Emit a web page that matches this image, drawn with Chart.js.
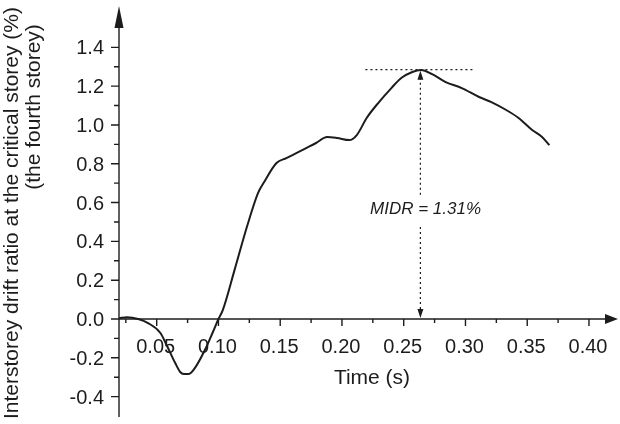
<!DOCTYPE html>
<html>
<head>
<meta charset="utf-8">
<script src="https://cdn.jsdelivr.net/npm/chart.js@4"></script>
<style>
  html, body { margin: 0; padding: 0; background: #fff; }
  #wrap { width: 620px; height: 424px; }
</style>
</head>
<body>
<div id="wrap"><canvas id="chart"></canvas></div>
<script>
// drift response at the critical (fourth) storey
const timeS = [0.0195, 0.026, 0.035, 0.043, 0.053, 0.058, 0.065, 0.069, 0.072, 0.076, 0.081, 0.089, 0.0955, 0.100, 0.1035,
  0.113, 0.123, 0.132, 0.137, 0.147, 0.155, 0.163, 0.171, 0.179, 0.188, 0.196, 0.206, 0.212, 0.220, 0.230, 0.240,
  0.248, 0.257, 0.264, 0.273, 0.284, 0.297, 0.311, 0.321, 0.333, 0.343, 0.354, 0.362, 0.368];
const drift = [0.004, 0.009, 0.0, -0.021, -0.072, -0.134, -0.227, -0.273, -0.283, -0.283, -0.252, -0.160, -0.067, 0.0, 0.046,
  0.252, 0.474, 0.649, 0.706, 0.804, 0.829, 0.855, 0.881, 0.907, 0.938, 0.933, 0.922, 0.948, 1.036, 1.118, 1.190,
  1.242, 1.273, 1.283, 1.262, 1.221, 1.190, 1.144, 1.118, 1.077, 1.036, 0.974, 0.938, 0.896];

const xTicks = [0.05, 0.10, 0.15, 0.20, 0.25, 0.30, 0.35, 0.40];
const xMinor = [0.025, 0.075, 0.125, 0.175, 0.225, 0.275, 0.325, 0.375];
const yTicks = [-0.4, -0.2, 0.0, 0.2, 0.4, 0.6, 0.8, 1.0, 1.2, 1.4];
const yMinor = [-0.3, -0.1, 0.1, 0.3, 0.5, 0.7, 0.9, 1.1, 1.3];

// MIDR marker
const midrTime = 0.2635;
const midrPeak = 1.285;
const midrLineFrom = 0.219;
const midrLineTo = 0.307;
const midrLabel = 'MIDR = 1.31%';

const INK = '#1c1c1c';
const FONT = '"Liberation Sans", Arial, Helvetica, sans-serif';

const axesPlugin = {
  id: 'axes',
  afterDatasetsDraw(chart) {
    const { ctx, chartArea: a } = chart;
    const xs = chart.scales.x, ys = chart.scales.y;
    const y0 = ys.getPixelForValue(0);
    ctx.save();
    ctx.strokeStyle = INK;
    ctx.fillStyle = INK;
    ctx.lineWidth = 1.4;

    // y axis + arrow
    ctx.beginPath();
    ctx.moveTo(a.left, a.bottom);
    ctx.lineTo(a.left, a.top + 18);
    ctx.stroke();
    ctx.beginPath();
    ctx.moveTo(a.left, a.top);
    ctx.lineTo(a.left - 4.5, a.top + 22);
    ctx.lineTo(a.left + 4.5, a.top + 22);
    ctx.closePath();
    ctx.fill();

    // x axis + arrow
    ctx.beginPath();
    ctx.moveTo(a.left, y0);
    ctx.lineTo(a.right - 10, y0);
    ctx.stroke();
    ctx.beginPath();
    ctx.moveTo(a.right, y0);
    ctx.lineTo(a.right - 13, y0 - 5);
    ctx.lineTo(a.right - 13, y0 + 5);
    ctx.closePath();
    ctx.fill();

    // ticks
    ctx.beginPath();
    yTicks.forEach((v) => { const p = ys.getPixelForValue(v); ctx.moveTo(a.left - 8, p); ctx.lineTo(a.left, p); });
    yMinor.forEach((v) => { const p = ys.getPixelForValue(v); ctx.moveTo(a.left - 5, p); ctx.lineTo(a.left, p); });
    xTicks.forEach((v) => { const p = xs.getPixelForValue(v); ctx.moveTo(p, y0); ctx.lineTo(p, y0 + 7); });
    xMinor.forEach((v) => { const p = xs.getPixelForValue(v); ctx.moveTo(p, y0); ctx.lineTo(p, y0 + 4); });
    ctx.stroke();

    // tick labels
    ctx.font = '20px ' + FONT;
    ctx.textAlign = 'right';
    ctx.textBaseline = 'alphabetic';
    yTicks.forEach((v) => ctx.fillText(v.toFixed(1), a.left - 15, ys.getPixelForValue(v) + 7));
    ctx.textAlign = 'center';
    xTicks.forEach((v) => ctx.fillText(v.toFixed(2), xs.getPixelForValue(v) - 1, y0 + 34));

    // axis titles
    ctx.font = '21px ' + FONT;
    ctx.fillText('Time (s)', 372, 384);
    ctx.save();
    ctx.translate(18, 213);
    ctx.rotate(-Math.PI / 2);
    ctx.fillText('Interstorey drift ratio at the critical storey (%)', 0, 0);
    ctx.restore();
    ctx.save();
    ctx.translate(40, 107);
    ctx.rotate(-Math.PI / 2);
    ctx.fillText('(the fourth storey)', 0, 0);
    ctx.restore();

    // MIDR marker: dotted lines
    const px = xs.getPixelForValue(midrTime);
    const pTop = ys.getPixelForValue(midrPeak);
    ctx.setLineDash([2, 3]);
    ctx.lineWidth = 1.2;
    ctx.beginPath();
    ctx.moveTo(xs.getPixelForValue(midrLineFrom), pTop);
    ctx.lineTo(xs.getPixelForValue(midrLineTo), pTop);
    ctx.moveTo(px, pTop + 8);
    ctx.lineTo(px, 195);
    ctx.moveTo(px, 227);
    ctx.lineTo(px, y0 - 8);
    ctx.stroke();
    ctx.setLineDash([]);
    ctx.beginPath();
    ctx.moveTo(px, pTop + 1); ctx.lineTo(px - 3, pTop + 10); ctx.lineTo(px + 3, pTop + 10); ctx.closePath();
    ctx.moveTo(px, y0 - 1); ctx.lineTo(px - 3, y0 - 10); ctx.lineTo(px + 3, y0 - 10); ctx.closePath();
    ctx.fill();

    ctx.font = 'italic 17px ' + FONT;
    ctx.textAlign = 'left';
    ctx.fillText(midrLabel, 370, 214);
    ctx.restore();
  },
};

new Chart(document.getElementById('chart'), {
  type: 'line',
  data: {
    datasets: [{
      data: timeS.map((t, i) => ({ x: t, y: drift[i] })),
      borderColor: INK,
      borderWidth: 2,
      pointRadius: 0,
      tension: 0.4,
      cubicInterpolationMode: 'monotone',
      fill: false,
    }],
  },
  options: {
    responsive: true,
    maintainAspectRatio: false,
    animation: false,
    layout: { padding: { left: 119, right: 2, top: 6, bottom: 7 } },
    plugins: { legend: { display: false }, tooltip: { enabled: false } },
    scales: {
      x: { type: 'linear', min: 0.01947, max: 0.4235, display: false },
      y: { type: 'linear', min: -0.505, max: 1.613, display: false },
    },
  },
  plugins: [axesPlugin],
});
</script>
</body>
</html>
